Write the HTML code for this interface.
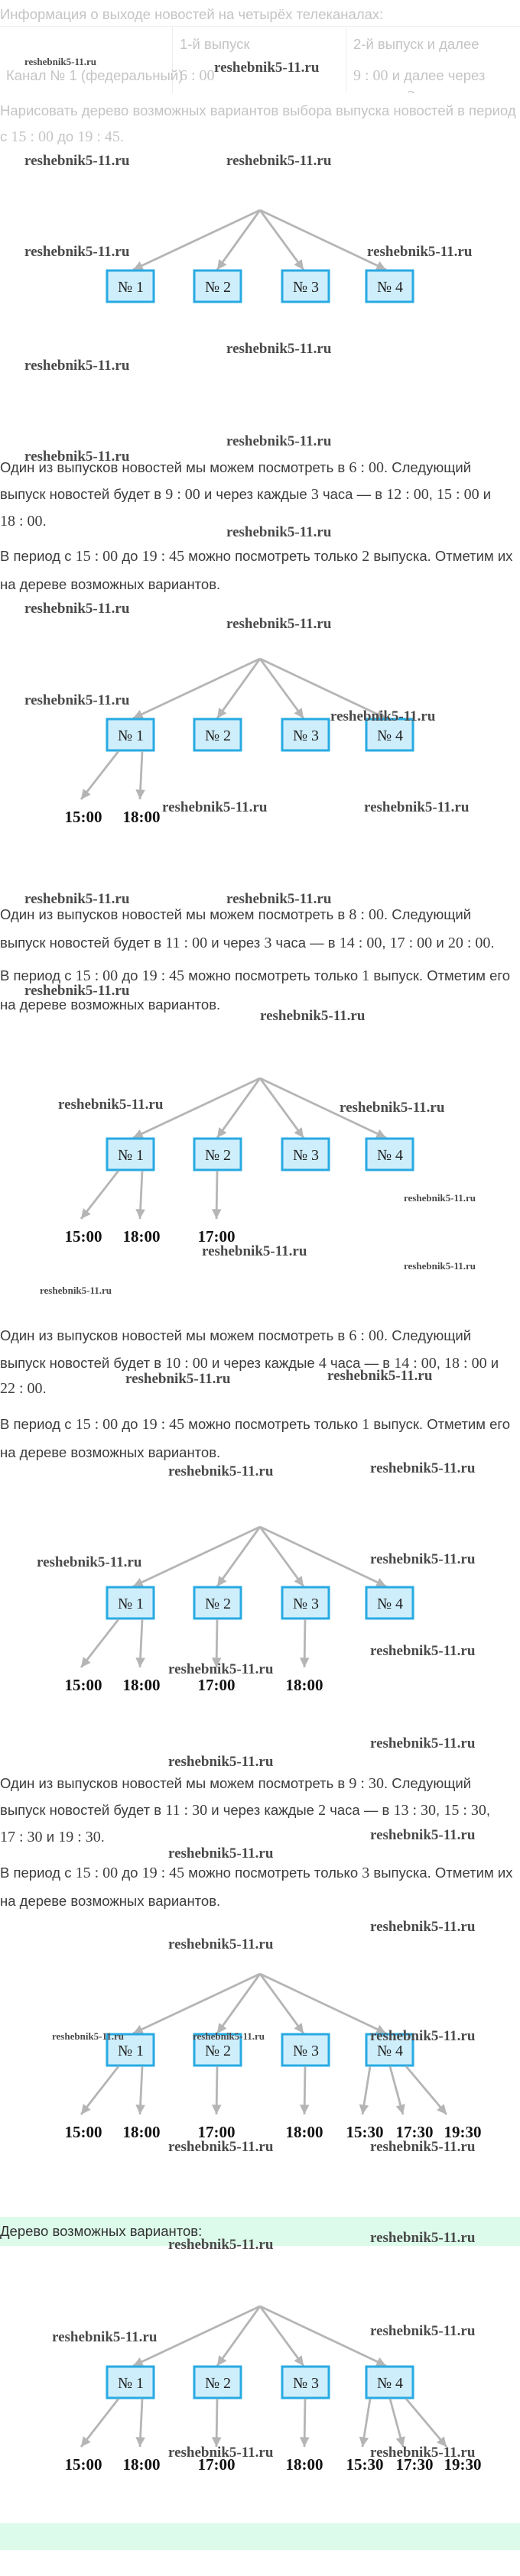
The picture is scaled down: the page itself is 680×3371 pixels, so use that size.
<!DOCTYPE html>
<html><head><meta charset="utf-8"><style>
body{margin:0;width:680px;height:3371px;position:relative;background:#fff;overflow:hidden;font-family:"Liberation Sans",sans-serif}
.t{position:absolute;left:0;white-space:nowrap;font-size:18.5px;color:#3c3c3c;line-height:22px}
.m{font-family:"Liberation Serif",serif;font-size:20px}
.g{color:#c4c4c4}
.w{position:absolute;font-family:"Liberation Serif",serif;font-weight:bold;font-size:19px;color:#4a4a4a;white-space:nowrap;line-height:20px}
.ws{font-size:13px}
.band{position:absolute;left:0;width:680px;background:#dcfbea}
</style></head><body>
<div class="t g" style="top:8px">Информация о выходе новостей на четырёх телеканалах:</div>
<div style="position:absolute;left:0;top:34px;width:680px;height:87px;overflow:hidden;border-top:1px solid #f0f0f0">
<div style="position:absolute;left:225px;top:0;width:1px;height:87px;background:#eee"></div>
<div style="position:absolute;left:452px;top:0;width:1px;height:87px;background:#eee"></div>
<div class="t g" style="left:235px;top:12px">1-й выпуск</div>
<div class="t g" style="left:462px;top:12px">2-й выпуск и далее</div>
<div class="t g" style="left:8px;top:53px">Канал № 1 (федеральный)</div>
<div class="t g" style="left:235px;top:53px"><span class="m">6 : 00</span></div>
<div class="t g" style="left:462px;top:53px"><span class="m">9 : 00</span> и далее через</div>
<div class="t g" style="left:462px;top:80px">каждые <span class="m">3</span> часа</div>
</div>
<div class="t g" style="top:134px">Нарисовать дерево возможных вариантов выбора выпуска новостей в период</div>
<div class="t g" style="top:168px">с <span class="m">15 : 00</span> до <span class="m">19 : 45</span>.</div>

<div class="t" style="top:601px">Один из выпусков новостей мы можем посмотреть в <span class="m">6 : 00</span>. Следующий</div>
<div class="t" style="top:636px">выпуск новостей будет в <span class="m">9 : 00</span> и через каждые <span class="m">3</span> часа — в <span class="m">12 : 00</span>, <span class="m">15 : 00</span> и</div>
<div class="t" style="top:671px"><span class="m">18 : 00</span>.</div>
<div class="t" style="top:717px">В период с <span class="m">15 : 00</span> до <span class="m">19 : 45</span> можно посмотреть только <span class="m">2</span> выпуска. Отметим их</div>
<div class="t" style="top:754px">на дереве возможных вариантов.</div>

<div class="t" style="top:1186px">Один из выпусков новостей мы можем посмотреть в <span class="m">8 : 00</span>. Следующий</div>
<div class="t" style="top:1223px">выпуск новостей будет в <span class="m">11 : 00</span> и через <span class="m">3</span> часа — в <span class="m">14 : 00</span>, <span class="m">17 : 00</span> и <span class="m">20 : 00</span>.</div>
<div class="t" style="top:1266px">В период с <span class="m">15 : 00</span> до <span class="m">19 : 45</span> можно посмотреть только <span class="m">1</span> выпуск. Отметим его</div>
<div class="t" style="top:1304px">на дереве возможных вариантов.</div>

<div class="t" style="top:1737px">Один из выпусков новостей мы можем посмотреть в <span class="m">6 : 00</span>. Следующий</div>
<div class="t" style="top:1773px">выпуск новостей будет в <span class="m">10 : 00</span> и через каждые <span class="m">4</span> часа — в <span class="m">14 : 00</span>, <span class="m">18 : 00</span> и</div>
<div class="t" style="top:1806px"><span class="m">22 : 00</span>.</div>
<div class="t" style="top:1853px">В период с <span class="m">15 : 00</span> до <span class="m">19 : 45</span> можно посмотреть только <span class="m">1</span> выпуск. Отметим его</div>
<div class="t" style="top:1890px">на дереве возможных вариантов.</div>

<div class="t" style="top:2323px">Один из выпусков новостей мы можем посмотреть в <span class="m">9 : 30</span>. Следующий</div>
<div class="t" style="top:2358px">выпуск новостей будет в <span class="m">11 : 30</span> и через каждые <span class="m">2</span> часа — в <span class="m">13 : 30</span>, <span class="m">15 : 30</span>,</div>
<div class="t" style="top:2393px"><span class="m">17 : 30</span> и <span class="m">19 : 30</span>.</div>
<div class="t" style="top:2440px">В период с <span class="m">15 : 00</span> до <span class="m">19 : 45</span> можно посмотреть только <span class="m">3</span> выпуска. Отметим их</div>
<div class="t" style="top:2477px">на дереве возможных вариантов.</div>

<div class="band" style="top:2901px;height:38px"></div>
<div class="t" style="top:2909px;color:#333">Дерево возможных вариантов:</div>
<div class="band" style="top:3302px;height:35px"></div>

<svg width="680" height="3371" style="position:absolute;left:0;top:0" xmlns="http://www.w3.org/2000/svg">
<defs>
<marker id="a" viewBox="0 0 10 10" refX="10" refY="5" markerWidth="5.5" markerHeight="4.5" orient="auto" markerUnits="strokeWidth"><path d="M0,0 L10,5 L0,10 z" fill="#b5b5b5"/></marker>
<g id="top" stroke="#b5b5b5" stroke-width="2.8" fill="none">
<line x1="340" y1="0" x2="174" y2="78" marker-end="url(#a)"/>
<line x1="340" y1="0" x2="284" y2="78" marker-end="url(#a)"/>
<line x1="340" y1="0" x2="397" y2="78" marker-end="url(#a)"/>
<line x1="340" y1="0" x2="505" y2="78" marker-end="url(#a)"/>
</g>
<g id="boxes" font-family="Liberation Serif,serif" font-size="20" fill="#222" text-anchor="middle">
<rect x="140" y="79" width="61" height="41" fill="#cfeefb" stroke="#27aae3" stroke-width="3"/>
<rect x="254" y="79" width="61" height="41" fill="#cfeefb" stroke="#27aae3" stroke-width="3"/>
<rect x="369" y="79" width="61" height="41" fill="#cfeefb" stroke="#27aae3" stroke-width="3"/>
<rect x="479" y="79" width="61" height="41" fill="#cfeefb" stroke="#27aae3" stroke-width="3"/>
<text x="171" y="107">№ 1</text><text x="285" y="107">№ 2</text><text x="400" y="107">№ 3</text><text x="510" y="107">№ 4</text>
</g>
<g id="l1" stroke="#b5b5b5" stroke-width="2.8"><line x1="155" y1="121" x2="106" y2="184" marker-end="url(#a)"/><line x1="186" y1="121" x2="183" y2="184" marker-end="url(#a)"/></g>
<g id="t1" font-family="Liberation Serif,serif" font-weight="bold" font-size="21" fill="#111" text-anchor="middle"><text x="109" y="214">15:00</text><text x="185" y="214">18:00</text></g>
<g id="l2" stroke="#b5b5b5" stroke-width="2.8"><line x1="284" y1="121" x2="283" y2="184" marker-end="url(#a)"/></g>
<g id="t2" font-family="Liberation Serif,serif" font-weight="bold" font-size="21" fill="#111" text-anchor="middle"><text x="283" y="214">17:00</text></g>
<g id="l3" stroke="#b5b5b5" stroke-width="2.8"><line x1="399" y1="121" x2="398" y2="184" marker-end="url(#a)"/></g>
<g id="t3" font-family="Liberation Serif,serif" font-weight="bold" font-size="21" fill="#111" text-anchor="middle"><text x="398" y="214">18:00</text></g>
<g id="l4" stroke="#b5b5b5" stroke-width="2.8"><line x1="484" y1="121" x2="474" y2="184" marker-end="url(#a)"/><line x1="510" y1="121" x2="527" y2="184" marker-end="url(#a)"/><line x1="531" y1="121" x2="584" y2="184" marker-end="url(#a)"/></g>
<g id="t4" font-family="Liberation Serif,serif" font-weight="bold" font-size="21" fill="#111" text-anchor="middle"><text x="477" y="214">15:30</text><text x="542" y="214">17:30</text><text x="605" y="214">19:30</text></g>
</defs>
<g transform="translate(0,275)"><use href="#top"/><use href="#boxes"/></g>
<g transform="translate(0,862)"><use href="#top"/><use href="#boxes"/><use href="#l1"/><use href="#t1"/></g>
<g transform="translate(0,1411)"><use href="#top"/><use href="#boxes"/><use href="#l1"/><use href="#t1"/><use href="#l2"/><use href="#t2"/></g>
<g transform="translate(0,1998)"><use href="#top"/><use href="#boxes"/><use href="#l1"/><use href="#t1"/><use href="#l2"/><use href="#t2"/><use href="#l3"/><use href="#t3"/></g>
<g transform="translate(0,2583)"><use href="#top"/><use href="#boxes"/><use href="#l1"/><use href="#t1"/><use href="#l2"/><use href="#t2"/><use href="#l3"/><use href="#t3"/><use href="#l4"/><use href="#t4"/></g>
<g transform="translate(0,3018)"><use href="#top"/><use href="#boxes"/><use href="#l1"/><use href="#t1"/><use href="#l2"/><use href="#t2"/><use href="#l3"/><use href="#t3"/><use href="#l4"/><use href="#t4"/></g>
</svg>

<div class="w ws" style="left:32px;top:71px">reshebnik5-11.ru</div>
<div class="w" style="left:280px;top:79px">reshebnik5-11.ru</div>
<div class="w" style="left:32px;top:201px">reshebnik5-11.ru</div>
<div class="w" style="left:296px;top:201px">reshebnik5-11.ru</div>
<div class="w" style="left:32px;top:320px">reshebnik5-11.ru</div>
<div class="w" style="left:480px;top:320px">reshebnik5-11.ru</div>
<div class="w" style="left:296px;top:447px">reshebnik5-11.ru</div>
<div class="w" style="left:32px;top:469px">reshebnik5-11.ru</div>
<div class="w" style="left:296px;top:568px">reshebnik5-11.ru</div>
<div class="w" style="left:32px;top:588px">reshebnik5-11.ru</div>
<div class="w" style="left:296px;top:687px">reshebnik5-11.ru</div>
<div class="w" style="left:32px;top:787px">reshebnik5-11.ru</div>
<div class="w" style="left:296px;top:807px">reshebnik5-11.ru</div>
<div class="w" style="left:32px;top:907px">reshebnik5-11.ru</div>
<div class="w" style="left:432px;top:928px">reshebnik5-11.ru</div>
<div class="w" style="left:212px;top:1047px">reshebnik5-11.ru</div>
<div class="w" style="left:476px;top:1047px">reshebnik5-11.ru</div>
<div class="w" style="left:32px;top:1167px">reshebnik5-11.ru</div>
<div class="w" style="left:296px;top:1167px">reshebnik5-11.ru</div>
<div class="w" style="left:32px;top:1287px">reshebnik5-11.ru</div>
<div class="w" style="left:340px;top:1320px">reshebnik5-11.ru</div>
<div class="w" style="left:76px;top:1436px">reshebnik5-11.ru</div>
<div class="w" style="left:444px;top:1440px">reshebnik5-11.ru</div>
<div class="w ws" style="left:528px;top:1558px">reshebnik5-11.ru</div>
<div class="w" style="left:264px;top:1628px">reshebnik5-11.ru</div>
<div class="w ws" style="left:528px;top:1647px">reshebnik5-11.ru</div>
<div class="w ws" style="left:52px;top:1679px">reshebnik5-11.ru</div>
<div class="w" style="left:164px;top:1795px">reshebnik5-11.ru</div>
<div class="w" style="left:428px;top:1791px">reshebnik5-11.ru</div>
<div class="w" style="left:220px;top:1916px">reshebnik5-11.ru</div>
<div class="w" style="left:484px;top:1912px">reshebnik5-11.ru</div>
<div class="w" style="left:48px;top:2035px">reshebnik5-11.ru</div>
<div class="w" style="left:484px;top:2031px">reshebnik5-11.ru</div>
<div class="w" style="left:484px;top:2151px">reshebnik5-11.ru</div>
<div class="w" style="left:220px;top:2175px">reshebnik5-11.ru</div>
<div class="w" style="left:484px;top:2272px">reshebnik5-11.ru</div>
<div class="w" style="left:220px;top:2296px">reshebnik5-11.ru</div>
<div class="w" style="left:484px;top:2392px">reshebnik5-11.ru</div>
<div class="w" style="left:220px;top:2416px">reshebnik5-11.ru</div>
<div class="w" style="left:484px;top:2512px">reshebnik5-11.ru</div>
<div class="w" style="left:220px;top:2535px">reshebnik5-11.ru</div>
<div class="w ws" style="left:68px;top:2655px">reshebnik5-11.ru</div>
<div class="w ws" style="left:252px;top:2655px">reshebnik5-11.ru</div>
<div class="w" style="left:484px;top:2655px">reshebnik5-11.ru</div>
<div class="w" style="left:220px;top:2800px">reshebnik5-11.ru</div>
<div class="w" style="left:484px;top:2800px">reshebnik5-11.ru</div>
<div class="w" style="left:484px;top:2919px">reshebnik5-11.ru</div>
<div class="w" style="left:220px;top:2928px">reshebnik5-11.ru</div>
<div class="w" style="left:68px;top:3049px">reshebnik5-11.ru</div>
<div class="w" style="left:484px;top:3041px">reshebnik5-11.ru</div>
<div class="w" style="left:220px;top:3200px">reshebnik5-11.ru</div>
<div class="w" style="left:484px;top:3200px">reshebnik5-11.ru</div>
</body></html>
